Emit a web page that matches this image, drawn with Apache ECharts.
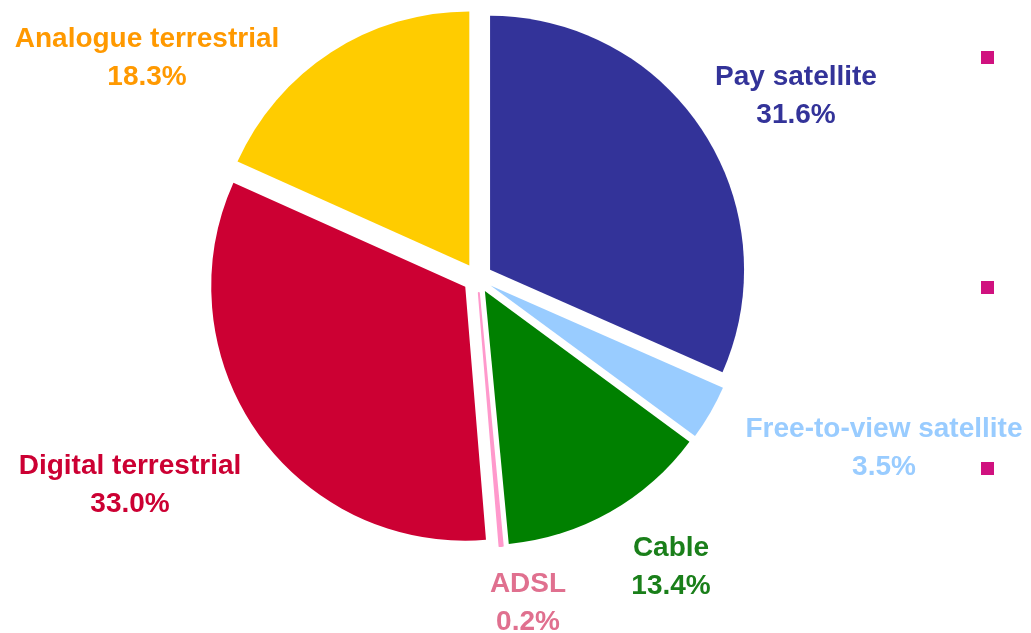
<!DOCTYPE html>
<html>
<head>
<meta charset="utf-8">
<script src="https://cdn.jsdelivr.net/npm/echarts@6/dist/echarts.min.js"></script>
<style>
  html, body { margin: 0; padding: 0; background: #ffffff; }
  #chart { width: 1031px; height: 633px; }
</style>
</head>
<body>
<div id="chart"></div>
<script>
// Share of households by main TV platform (%)
const platforms = ['Pay satellite', 'Free-to-view satellite', 'Cable', 'ADSL', 'Digital terrestrial', 'Analogue terrestrial'];
const shares = [31.6, 3.5, 13.4, 0.2, 33.0, 18.3];
const sliceColors = ['#333399', '#99ccff', '#008000', '#ff99cc', '#cc0033', '#ffcc00'];
const labelColors = ['#333399', '#99ccff', '#1a7f1a', '#e0708f', '#cc0033', '#ff9900'];

// where each two-line label sits (centre of the text block)
const labelSpots = [[796, 96], [884, 448], [671, 567], [528, 603], [130, 485], [147, 58]];

const pieCenter = [477.5, 278];
const pieRadius = 254;

const chart = echarts.init(document.getElementById('chart'));
chart.setOption({
  animation: false,
  backgroundColor: '#ffffff',
  graphic: [
    { type: 'rect', shape: { x: 981, y: 51, width: 13, height: 13 }, style: { fill: '#d0117f' } },
    { type: 'rect', shape: { x: 981, y: 281, width: 13, height: 13 }, style: { fill: '#d0117f' } },
    { type: 'rect', shape: { x: 981, y: 462, width: 13, height: 13 }, style: { fill: '#d0117f' } }
  ],
  series: [
    {
      // exploded slices
      type: 'pie',
      center: pieCenter,
      radius: [0, pieRadius],
      startAngle: 90,
      clockwise: true,
      selectedMode: 'multiple',
      selectedOffset: 15,
      emphasis: { disabled: true },
      label: { show: false },
      labelLine: { show: false },
      data: platforms.map((name, i) => ({
        name: name,
        value: shares[i],
        selected: true,
        // the hairline ADSL slice gets a matching outline so it stays visible
        itemStyle: name === 'ADSL'
          ? { color: sliceColors[i], borderColor: sliceColors[i], borderWidth: 2 }
          : { color: sliceColors[i] }
      }))
    },
    {
      // same shares again, only to carry the slice labels
      type: 'pie',
      center: pieCenter,
      radius: [0, pieRadius],
      startAngle: 90,
      clockwise: true,
      silent: true,
      selectedMode: false,
      avoidLabelOverlap: false,
      emphasis: { disabled: true },
      itemStyle: { color: 'rgba(0,0,0,0)' },
      labelLine: { show: false },
      label: {
        show: true,
        position: 'outside',
        fontFamily: '"Liberation Sans", Arial, sans-serif',
        fontWeight: 'bold',
        fontSize: 28,
        lineHeight: 38,
        formatter: p => p.name + '\n' + p.value.toFixed(1) + '%'
      },
      labelLayout: p => ({
        x: labelSpots[p.dataIndex][0],
        y: labelSpots[p.dataIndex][1],
        align: 'center',
        verticalAlign: 'middle'
      }),
      data: platforms.map((name, i) => ({
        name: name,
        value: shares[i],
        label: { color: labelColors[i] }
      }))
    }
  ]
});
</script>
</body>
</html>
